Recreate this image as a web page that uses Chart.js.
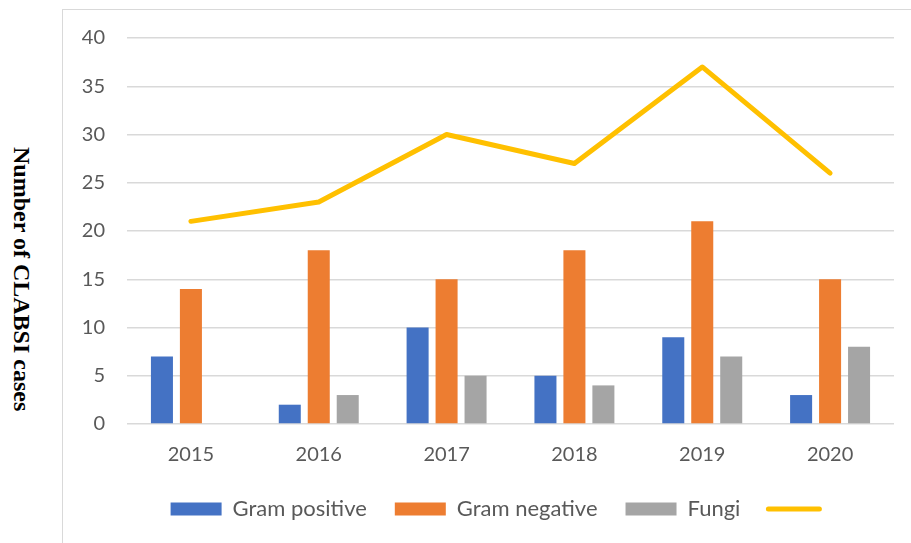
<!DOCTYPE html>
<html>
<head>
<meta charset="utf-8">
<script src="https://cdn.jsdelivr.net/npm/chart.js@4"></script>
<style>
  html, body { margin: 0; padding: 0; background: #fff; }
  body { width: 911px; height: 543px; position: relative; overflow: hidden; }
  #frame {
    position: absolute; left: 62px; top: 9px; width: 849px; height: 534px;
    border-left: 1px solid #d9d9d9; border-top: 1px solid #d9d9d9;
    box-sizing: border-box;
  }
  #chart { position: absolute; left: 63px; top: 10px; }
  #ytitle {
    position: absolute; left: 10px; top: 147px; width: 24px;
    writing-mode: vertical-rl;
    font: bold 24px "Liberation Serif", "Times New Roman", serif;
    line-height: 24px; white-space: nowrap; color: #000;
  }
</style>
</head>
<body>
<div id="frame"></div>
<div id="ytitle">Number of CLABSI cases</div>
<canvas id="chart" width="848" height="533"></canvas>
<script>
const years = ['2015', '2016', '2017', '2018', '2019', '2020'];
const gramPositive = [7, 2, 10, 5, 9, 3];
const gramNegative = [14, 18, 15, 18, 21, 15];
const fungi = [0, 3, 5, 4, 7, 8];
const totalCases = [21, 23, 30, 27, 37, 26];

const textColor = '#595959';
const gridColor = '#d9d9d9';

function barSet(label, data, color) {
    return {
        type: 'bar',
        label: label,
        data: data,
        backgroundColor: color,
        borderWidth: 0,
        categoryPercentage: 0.68,
        barPercentage: 0.76
    };
}

// nudge the legend to the right, like in the original picture
const legendShift = {
    id: 'legendShift',
    afterLayout: function(chart) {
        chart.legend.left += 22;
        chart.legend.right += 22;
    }
};

new Chart(document.getElementById('chart'), {
    data: {
        labels: years,
        datasets: [
            barSet('Gram positive', gramPositive, '#4472C4'),
            barSet('Gram negative', gramNegative, '#ED7D31'),
            barSet('Fungi', fungi, '#A5A5A5'),
            {
                type: 'line',
                label: '',
                data: totalCases,
                borderColor: '#FFC000',
                backgroundColor: '#FFC000',
                borderWidth: 5,
                borderCapStyle: 'round',
                borderJoinStyle: 'round',
                pointRadius: 0,
                tension: 0
            }
        ]
    },
    plugins: [legendShift],
    options: {
        responsive: false,
        animation: false,
        layout: { padding: { top: 28, right: 17, bottom: 13, left: 0 } },
        plugins: {
            tooltip: { enabled: false },
            legend: {
                position: 'bottom',
                labels: {
                    color: textColor,
                    font: { family: 'Lato', size: 22 },
                    usePointStyle: true,
                    pointStyleWidth: 51,
                    boxHeight: 13,
                    padding: 28,
                    generateLabels: function(chart) {
                        const items = Chart.defaults.plugins.legend.labels.generateLabels(chart);
                        items.forEach(function(it) {
                            const ds = chart.data.datasets[it.datasetIndex];
                            it.pointStyle = ds.type === 'line' ? 'line' : 'rect';
                            if (ds.type === 'line') { it.lineWidth = 5; it.lineCap = 'round'; it.strokeStyle = '#FFC000'; }
                        });
                        return items;
                    }
                }
            }
        },
        scales: {
            x: {
                grid: { display: false, drawTicks: false },
                border: { display: false },
                ticks: { color: textColor, font: { family: 'Lato', size: 20 }, padding: 19 },
                afterFit: function(scale) { scale.height = 46; }
            },
            y: {
                min: 0,
                max: 40,
                grid: { color: gridColor, lineWidth: 1.5, drawTicks: false },
                border: { display: false },
                ticks: { stepSize: 5, color: textColor, font: { family: 'Lato', size: 20 }, padding: 22 },
                afterFit: function(scale) {
                    scale.width = 64;
                    scale.paddingTop = 12;
                }
            }
        }
    }
});
</script>
</body>
</html>
